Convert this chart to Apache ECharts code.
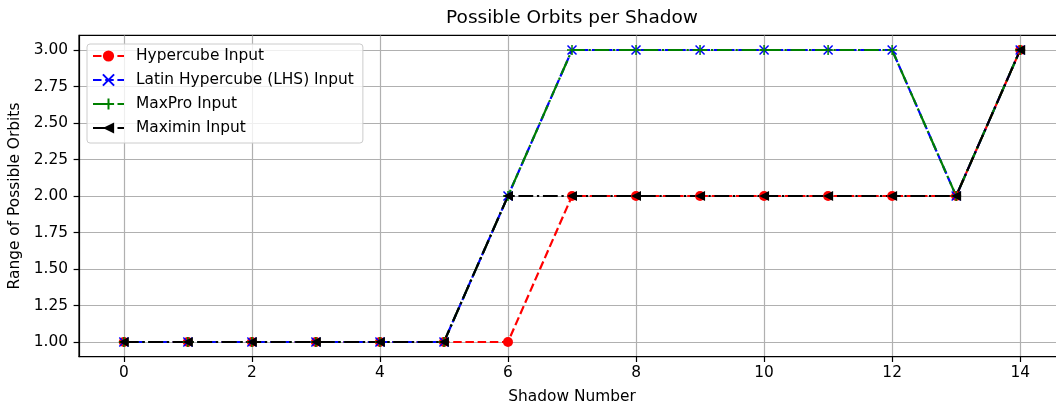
<!DOCTYPE html>
<html>
<head>
<meta charset="utf-8">
<script src="https://cdn.jsdelivr.net/npm/echarts@6/dist/echarts.min.js"></script>
<style>
html,body{margin:0;padding:0;background:#fff;}
#chart{width:1056px;height:402px;}
</style>
</head>
<body>
<div id="chart"></div>
<script>
var shadows = [0,1,2,3,4,5,6,7,8,9,10,11,12,13,14];
var hypercube = [1,1,1,1,1,1,1,2,2,2,2,2,2,2,3];
var lhs       = [1,1,1,1,1,1,2,3,3,3,3,3,3,2,3];
var maxpro    = [1,1,1,1,1,1,2,3,3,3,3,3,3,2,3];
var maximin   = [1,1,1,1,1,1,2,2,2,2,2,2,2,2,3];
var xTicks = [0,2,4,6,8,10,12,14];
var yTicks = [1.00,1.25,1.50,1.75,2.00,2.25,2.50,2.75,3.00];
var seriesNames = ['Hypercube Input','Latin Hypercube (LHS) Input','MaxPro Input','Maximin Input'];

function pairs(vals){ return shadows.map(function(x,i){ return [x, vals[i]]; }); }

var FONT = 'DejaVu Sans';
var FS = 15.4;
var dashed = [8.5, 3.7];
var dashdot = [14.8, 3.7, 2.3, 3.7];

var chart = echarts.init(document.getElementById('chart'), null, {renderer:'canvas'});
chart.setOption({
  animation: false,
  backgroundColor: '#fff',
  title: {
    text: 'Possible Orbits per Shadow',
    left: 572, top: 9, textAlign: 'center', padding: 0,
    textStyle: {fontFamily: FONT, fontSize: 18.5, fontWeight: 'normal', color: '#000'}
  },
  grid: {
    left: 79, right: -9, top: 35.4, bottom: 45.4,
    outerBoundsMode: 'none', containLabel: false,
    show: true, borderColor: '#000', borderWidth: 1.2, backgroundColor: 'transparent'
  },
  legend: {
    orient: 'vertical', left: 87, top: 44,
    itemWidth: 31, itemHeight: 14, itemGap: 8,
    padding: [4, 9, 7, 5],
    backgroundColor: 'rgba(255,255,255,0.8)',
    borderColor: '#cccccc', borderWidth: 1, borderRadius: 3,
    textStyle: {fontFamily: FONT, fontSize: FS, lineHeight: 16, color: '#000', padding: [0,0,0,7]},
    data: seriesNames
  },
  xAxis: {
    type: 'value', min: -0.7, max: 14.7,
    name: 'Shadow Number', nameLocation: 'middle', nameGap: 33,
    nameTextStyle: {fontFamily: FONT, fontSize: FS, color: '#000'},
    axisLine: {show: true, onZero: false, lineStyle: {color: '#000', width: 1.2}},
    axisTick: {show: true, length: 5.4, lineStyle: {color: '#000', width: 1.2}, customValues: xTicks},
    axisLabel: {fontFamily: FONT, fontSize: FS, color: '#000', margin: 9, customValues: xTicks},
    splitLine: {show: true, lineStyle: {color: '#b0b0b0', width: 1.2}}
  },
  yAxis: {
    type: 'value', min: 0.9, max: 3.1,
    name: 'Range of Possible Orbits', nameLocation: 'middle', nameGap: 53,
    nameTextStyle: {fontFamily: FONT, fontSize: FS, color: '#000'},
    axisLine: {show: true, onZero: false, lineStyle: {color: '#000', width: 1.2}},
    axisTick: {show: true, length: 5.4, lineStyle: {color: '#000', width: 1.2}, customValues: yTicks},
    axisLabel: {fontFamily: FONT, fontSize: FS, color: '#000', margin: 11, customValues: yTicks,
      formatter: function(v){ return v.toFixed(2); }},
    splitLine: {show: true, lineStyle: {color: '#b0b0b0', width: 1.2}}
  },
  series: [
    {
      name: seriesNames[0], type: 'line', data: pairs(hypercube),
      symbol: 'circle', symbolSize: 10,
      lineStyle: {color: '#ff0000', width: 2.2, type: dashed},
      itemStyle: {color: '#ff0000'}
    },
    {
      name: seriesNames[1], type: 'line', data: pairs(lhs),
      symbol: 'path://M0,0L10,10M10,0L0,10', symbolSize: 9,
      lineStyle: {color: '#0000ff', width: 2.2, type: dashed},
      itemStyle: {color: '#0000ff', borderColor: '#0000ff', borderWidth: 1.5}
    },
    {
      name: seriesNames[2], type: 'line', data: pairs(maxpro),
      symbol: 'path://M5,0L5,10M0,5L10,5', symbolSize: 10,
      lineStyle: {color: '#008000', width: 2.2, type: dashdot},
      itemStyle: {color: '#008000', borderColor: '#008000', borderWidth: 1.5}
    },
    {
      name: seriesNames[3], type: 'line', data: pairs(maximin),
      symbol: 'path://M0,5L10,0L10,10Z', symbolSize: 10,
      lineStyle: {color: '#000000', width: 2.2, type: dashdot},
      itemStyle: {color: '#000000'}
    }
  ]
});
</script>
</body>
</html>
